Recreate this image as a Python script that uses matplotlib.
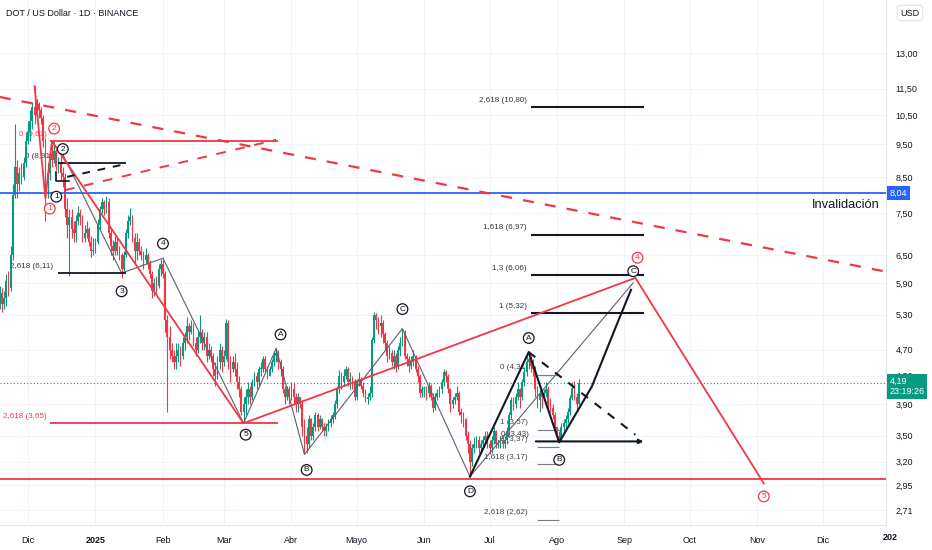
import matplotlib
matplotlib.use("Agg")
import matplotlib.pyplot as plt
import matplotlib.dates as mdates
import matplotlib.ticker as mticker
import matplotlib.transforms as mtransforms
import pandas as pd

plt.rcParams['font.family'] = ['Liberation Sans', 'DejaVu Sans']

# daily candles (high, low, close); open is the previous close
first_open = 5.5
nov24 = [(5.85, 5.40, 5.70), (5.80, 5.35, 5.50), (5.75, 5.40, 5.60), (6.10, 5.45, 5.95),
         (6.15, 5.65, 5.80), (6.70, 5.75, 6.50), (8.30, 6.40, 8.00), (10.2, 7.90, 8.80),
         (9.00, 7.90, 8.30), (8.80, 8.10, 8.60), (8.90, 8.30, 8.50), (9.10, 8.40, 8.90),
         (9.90, 8.80, 9.60)]
dec24 = [(10.3, 9.5, 9.9), (10.7, 9.6, 10.3), (11.0, 10.0, 10.8), (11.6, 10.2, 10.5),
         (11.1, 10.3, 10.9), (11.0, 10.4, 10.7), (10.8, 10.2, 10.4), (10.5, 9.4, 9.6),
         (9.7, 7.3, 8.4), (8.9, 7.9, 8.6), (9.4, 8.4, 9.2), (9.5, 8.8, 9.0),
         (9.6, 8.9, 9.3), (9.4, 8.7, 8.8), (9.1, 8.6, 8.9), (9.2, 8.4, 8.6),
         (8.8, 8.2, 8.5), (8.6, 7.4, 7.6), (7.9, 6.9, 7.2), (7.6, 6.05, 7.4),
         (7.6, 6.9, 7.1), (7.3, 6.8, 7.0), (7.45, 6.8, 7.3), (7.7, 7.2, 7.5),
         (7.6, 7.2, 7.4), (7.45, 6.8, 6.9), (7.2, 6.8, 7.0), (7.3, 6.9, 7.1),
         (7.15, 6.7, 6.8), (6.95, 6.45, 6.6), (6.9, 6.5, 6.6)]
jan25 = [(6.9, 6.55, 6.8), (7.35, 6.75, 7.2), (7.7, 7.1, 7.6), (7.9, 7.5, 7.8),
         (7.85, 7.45, 7.6), (7.95, 7.5, 7.8), (7.9, 6.9, 7.0), (7.1, 6.5, 6.7),
         (6.85, 6.4, 6.6), (6.95, 6.5, 6.8), (6.9, 6.5, 6.6), (6.7, 6.4, 6.5),
         (6.55, 6.0, 6.2), (6.6, 6.15, 6.5), (7.1, 6.45, 7.0), (7.45, 6.9, 7.3),
         (7.65, 7.2, 7.4), (7.45, 6.8, 6.9), (7.0, 6.3, 6.6), (7.0, 6.4, 6.8),
         (6.9, 6.5, 6.6), (6.7, 6.4, 6.5), (6.6, 6.2, 6.4), (6.65, 6.3, 6.5),
         (6.55, 6.2, 6.3), (6.4, 6.0, 6.1), (6.15, 5.6, 5.75), (6.0, 5.65, 5.9),
         (6.05, 5.7, 5.85), (6.3, 5.8, 6.2), (6.42, 6.05, 6.3)]
feb25 = [(6.4, 6.0, 6.1), (6.15, 5.0, 5.2), (5.3, 3.8, 4.9), (5.1, 4.55, 4.7),
         (4.8, 4.5, 4.6), (4.7, 4.4, 4.5), (4.8, 4.4, 4.6), (4.8, 4.5, 4.7),
         (4.75, 4.45, 4.6), (4.9, 4.55, 4.8), (5.0, 4.7, 4.9), (5.25, 4.8, 5.1),
         (5.15, 4.85, 5.0), (5.2, 4.95, 5.1), (5.15, 4.75, 4.8), (4.9, 4.6, 4.7),
         (5.0, 4.65, 4.9), (5.3, 4.8, 5.0), (5.05, 4.7, 4.8), (5.0, 4.7, 4.9),
         (5.0, 4.5, 4.6), (4.8, 4.55, 4.7), (4.75, 4.5, 4.6), (4.65, 4.3, 4.4),
         (4.5, 4.15, 4.3), (4.6, 4.25, 4.5), (4.8, 4.4, 4.7), (4.75, 4.35, 4.5)]
mar25 = [(4.7, 4.45, 4.6), (5.22, 4.55, 5.15), (5.2, 4.4, 4.5), (4.6, 4.2, 4.4),
         (4.6, 4.35, 4.5), (4.65, 4.3, 4.4), (4.5, 4.1, 4.2), (4.3, 4.0, 4.1),
         (4.15, 3.75, 3.8), (4.0, 3.67, 3.9), (4.1, 3.75, 4.0), (4.2, 3.9, 4.1),
         (4.15, 3.9, 4.0), (4.25, 3.95, 4.2), (4.35, 4.15, 4.3), (4.35, 4.1, 4.2),
         (4.45, 4.15, 4.4), (4.5, 4.3, 4.4), (4.6, 4.35, 4.55), (4.6, 4.35, 4.4),
         (4.45, 4.25, 4.3), (4.45, 4.3, 4.4), (4.55, 4.35, 4.5), (4.68, 4.45, 4.6),
         (4.72, 4.5, 4.65), (4.7, 4.4, 4.5), (4.55, 4.3, 4.4), (4.45, 4.05, 4.1),
         (4.15, 3.9, 4.0), (4.15, 3.95, 4.1), (4.15, 3.9, 4.0)]
apr25 = [(4.2, 3.95, 4.1), (4.2, 3.9, 4.0), (4.05, 3.8, 3.9), (4.05, 3.8, 4.0),
         (4.0, 3.85, 3.9), (3.95, 3.5, 3.6), (3.7, 3.28, 3.5), (3.6, 3.3, 3.4),
         (3.75, 3.35, 3.7), (3.72, 3.45, 3.5), (3.65, 3.45, 3.6), (3.8, 3.55, 3.75),
         (3.78, 3.55, 3.6), (3.75, 3.58, 3.7), (3.72, 3.55, 3.6), (3.65, 3.5, 3.55),
         (3.65, 3.5, 3.6), (3.7, 3.55, 3.65), (3.75, 3.6, 3.7), (3.8, 3.65, 3.75),
         (3.95, 3.7, 3.9), (4.15, 3.85, 4.1), (4.38, 4.05, 4.3), (4.35, 4.1, 4.2),
         (4.4, 4.15, 4.3), (4.45, 4.25, 4.4), (4.42, 4.15, 4.2), (4.35, 4.1, 4.25),
         (4.3, 4.1, 4.2), (4.25, 3.95, 4.0)]
may25 = [(4.25, 3.95, 4.2), (4.35, 4.15, 4.25), (4.28, 4.1, 4.15), (4.2, 4.0, 4.05),
         (4.1, 3.92, 3.97), (4.05, 3.9, 4.0), (4.15, 3.95, 4.05), (4.9, 4.0, 4.85),
         (5.35, 4.8, 5.3), (5.33, 5.05, 5.2), (5.25, 4.95, 5.1), (5.3, 4.9, 5.15),
         (5.2, 4.8, 4.95), (5.0, 4.7, 4.8), (4.85, 4.5, 4.6), (4.75, 4.55, 4.65),
         (4.7, 4.45, 4.5), (4.7, 4.4, 4.6), (4.65, 4.35, 4.45), (4.75, 4.4, 4.7),
         (4.9, 4.6, 4.8), (5.05, 4.75, 5.0), (5.02, 4.55, 4.6), (4.65, 4.45, 4.55),
         (4.6, 4.35, 4.45), (4.6, 4.4, 4.5), (4.7, 4.45, 4.6), (4.62, 4.35, 4.4),
         (4.45, 4.2, 4.3), (4.32, 4.0, 4.05), (4.15, 4.0, 4.1)]
jun25 = [(4.15, 4.0, 4.1), (4.15, 3.95, 4.05), (4.2, 4.0, 4.15), (4.18, 3.95, 4.0),
         (4.05, 3.8, 3.85), (4.05, 3.82, 4.0), (4.1, 3.95, 4.05), (4.15, 4.0, 4.1),
         (4.25, 4.05, 4.2), (4.4, 4.15, 4.35), (4.38, 4.2, 4.3), (4.32, 4.05, 4.1),
         (4.12, 3.8, 3.9), (4.0, 3.85, 3.95), (4.05, 3.9, 4.0), (4.15, 3.95, 4.05),
         (4.08, 3.75, 3.8), (3.85, 3.65, 3.75), (3.8, 3.6, 3.7), (3.72, 3.45, 3.5),
         (3.55, 3.3, 3.4), (3.45, 3.04, 3.2), (3.4, 3.15, 3.35), (3.48, 3.3, 3.4),
         (3.5, 3.35, 3.45), (3.5, 3.3, 3.35), (3.45, 3.3, 3.4), (3.5, 3.35, 3.45),
         (3.55, 3.4, 3.5), (3.55, 3.35, 3.4)]
jul25 = [(3.45, 3.28, 3.35), (3.5, 3.3, 3.45), (3.6, 3.4, 3.55), (3.57, 3.35, 3.4),
         (3.45, 3.35, 3.4), (3.5, 3.35, 3.45), (3.5, 3.35, 3.4), (3.5, 3.35, 3.45),
         (3.6, 3.4, 3.55), (3.8, 3.5, 3.75), (4.0, 3.7, 3.95), (4.0, 3.82, 3.9),
         (4.05, 3.85, 4.0), (4.2, 3.95, 4.1), (4.12, 3.85, 4.0), (4.25, 3.95, 4.2),
         (4.42, 4.15, 4.35), (4.6, 4.3, 4.5), (4.66, 4.4, 4.55), (4.6, 4.35, 4.45),
         (4.55, 4.3, 4.4), (4.45, 4.0, 4.1), (4.15, 3.85, 3.95), (4.1, 3.8, 4.05),
         (4.1, 3.85, 4.0), (4.1, 3.95, 4.05), (4.2, 4.0, 4.1), (4.15, 3.85, 3.9),
         (3.98, 3.8, 3.85), (3.9, 3.7, 3.75), (3.8, 3.55, 3.6)]
aug25 = [(3.62, 3.45, 3.5), (3.55, 3.42, 3.45), (3.65, 3.43, 3.6), (3.7, 3.55, 3.65),
         (3.75, 3.6, 3.7), (3.85, 3.65, 3.8), (4.02, 3.75, 3.98), (4.2, 3.95, 4.12),
         (4.22, 3.95, 4.0), (4.05, 3.8, 3.9), (4.25, 3.88, 4.19)]

last_price = 4.19
invalidation = 8.04
support = 3.02

month_ticks = ['2024-12-01', '2025-01-01', '2025-02-01', '2025-03-01', '2025-04-01',
               '2025-05-01', '2025-06-01', '2025-07-01', '2025-08-01', '2025-09-01',
               '2025-10-01', '2025-11-01', '2025-12-01']
month_labels = ['Dic', '2025', 'Feb', 'Mar', 'Abr', 'Mayo', 'Jun', 'Jul', 'Ago',
                'Sep', 'Oct', 'Nov', 'Dic']
price_ticks = [13.0, 11.5, 10.5, 9.5, 8.5, 7.5, 6.5, 5.9, 5.3, 4.7, 4.3, 3.9,
               3.5, 3.2, 2.95, 2.71]

# drawings (date, price)
red_wave = [('2024-12-04', 11.6), ('2024-12-09', 7.9), ('2024-12-12', 9.61),
            ('2025-03-10', 3.65), ('2025-09-06', 6.01), ('2025-11-04', 2.97)]
grey_wave = [('2024-12-16', 9.32), ('2025-01-13', 6.11), ('2025-02-01', 6.43),
             ('2025-03-10', 3.65), ('2025-03-25', 4.72), ('2025-04-07', 3.28),
             ('2025-05-22', 5.05), ('2025-06-22', 3.04), ('2025-09-05', 5.91)]
black_wave = [('2025-06-22', 3.04), ('2025-07-19', 4.66), ('2025-08-02', 3.42),
              ('2025-08-17', 4.14), ('2025-08-28', 5.08), ('2025-09-04', 5.77)]
black_dash = [('2025-07-19', 4.66), ('2025-09-06', 3.51)]
small_dash = [('2024-12-19', 8.50), ('2025-01-14', 8.87)]
bracket = [('2024-12-14', 8.65), ('2024-12-14', 8.38), ('2024-12-20', 8.38)]
red_dash_down = [('2024-11-18', 11.18), ('2025-12-29', 6.15)]
red_dash_up = [('2024-12-18', 8.12), ('2025-03-25', 9.65)]

red_fib_levels = [9.61, 3.65]
red_fib_labels = ['0 (9,61)', '2,618 (3,65)']
left_fib_levels = [8.91, 6.11]
left_fib_labels = ['0 (8,91)', '2,618 (6,11)']
big_fib_levels = [5.32, 6.06, 6.97, 10.80]
big_fib_labels = ['1 (5,32)', '1,3 (6,06)', '1,618 (6,97)', '2,618 (10,80)']
big_fib_zero = 3.43
small_fib_levels = [4.31, 3.57, 3.37, 3.17, 2.62]
small_fib_labels = ['0 (4,31)', '1 (3,57)', '1,3 (3,37)', '1,618 (3,17)', '2,618 (2,62)']

black_marks = [('1', '2024-12-14', 7.94), ('2', '2024-12-17', 9.35), ('3', '2025-01-13', 5.74),
               ('4', '2025-02-01', 6.76), ('5', '2025-03-11', 3.51), ('A', '2025-03-27', 4.95),
               ('B', '2025-04-08', 3.11), ('C', '2025-05-22', 5.40), ('D', '2025-06-22', 2.89),
               ('A', '2025-07-19', 4.89), ('B', '2025-08-02', 3.22), ('C', '2025-09-05', 6.15)]
red_marks = [('1', '2024-12-11', 7.62), ('2', '2024-12-13', 10.03),
             ('4', '2025-09-07', 6.44), ('5', '2025-11-04', 2.84)]

UP = '#089981'
DOWN = '#F23645'
RED = '#F23645'
INK = '#131722'


def dn(s):
    return mdates.date2num(pd.Timestamp(s))


def draw(pts, **kw):
    ax.plot([dn(d) for d, _ in pts], [p for _, p in pts], **kw)


def fib(levels, labels, start, end, color, lw, gap, lcolor):
    for lv, lb in zip(levels, labels):
        ax.hlines(lv, dn(start), dn(end), color=color, lw=lw, zorder=4)
        ax.annotate(lb, (dn(start), lv), xytext=(-gap, 2.5), textcoords='offset points',
                    ha='right', va='bottom', fontsize=5.8, color=lcolor, zorder=1)


def mark(txt, d, p, color):
    ax.text(dn(d), p, txt, ha='center', va='center', fontsize=6, color=color, zorder=7,
            bbox=dict(boxstyle='circle,pad=0.22', fc='white', ec=color, lw=0.9))


candles = nov24 + dec24 + jan25 + feb25 + mar25 + apr25 + may25 + jun25 + jul25 + aug25
dates = pd.date_range('2024-11-18', periods=len(candles), freq='D')
x = mdates.date2num(dates)
highs = [c[0] for c in candles]
lows = [c[1] for c in candles]
closes = [c[2] for c in candles]
opens = [first_open] + closes[:-1]
cols = [UP if c >= o else DOWN for o, c in zip(opens, closes)]
bottoms = [min(o, c) for o, c in zip(opens, closes)]
heights = [max(abs(c - o), 0.015) for o, c in zip(opens, closes)]

fig = plt.figure(figsize=(9.32, 5.5), dpi=100)
ax = fig.add_axes([0, 25 / 550, 886 / 932, 525 / 550])
ax.set_yscale('log')

ax.vlines(x, lows, highs, colors=cols, lw=0.8, zorder=2)
ax.bar(x, heights, bottom=bottoms, width=0.8, color=cols, linewidth=0, zorder=2)

# horizontal levels
ax.axhline(invalidation, color='#2962FF', lw=1.3, zorder=4)
ax.axhline(support, color=RED, lw=1.3, zorder=4)
ax.axhline(last_price, color=UP, lw=0.8, ls=(0, (1, 2)), zorder=3)

# trend lines
draw(red_dash_down, color=RED, lw=1.6, ls=(0, (5, 5)), zorder=4)
draw(red_dash_up, color=RED, lw=1.4, ls=(0, (5, 5)), zorder=4)
draw(red_wave, color=RED, lw=1.3, zorder=5)
draw(grey_wave, color='#5d606b', lw=0.8, zorder=4)
draw(black_wave, color=INK, lw=1.5, zorder=5)
draw(black_dash, color=INK, lw=1.5, ls=(0, (4, 4)), zorder=5)
draw(small_dash, color=INK, lw=1.4, ls=(0, (4, 4)), zorder=5)
draw(bracket, color=INK, lw=1.2, zorder=5)

# fibonacci tools
fib(red_fib_levels, red_fib_labels, '2024-12-11', '2025-03-26', RED, 1.3, 2, RED)
fib(left_fib_levels, left_fib_labels, '2024-12-15', '2025-01-15', INK, 1.3, 4, '#333')
fib(big_fib_levels, big_fib_labels, '2025-07-20', '2025-09-10', INK, 1.5, 3, '#333')
fib(small_fib_levels, small_fib_labels, '2025-07-23', '2025-08-02', '#787B86', 0.8, 7, '#444')
ax.annotate('', xy=(dn('2025-09-11'), big_fib_zero), xytext=(dn('2025-07-21'), big_fib_zero),
            arrowprops=dict(arrowstyle='-|>', color=INK, lw=1.5, mutation_scale=6), zorder=5)
ax.annotate('0 (3,43)', (dn('2025-07-21'), big_fib_zero), xytext=(-3, 2.5),
            textcoords='offset points', ha='right', va='bottom', fontsize=5.8, color='#333', zorder=1)

for t, d, p in black_marks:
    mark(t, d, p, INK)
for t, d, p in red_marks:
    mark(t, d, p, RED)

ax.text(dn('2025-12-27'), 7.73, 'Invalidación', ha='right', va='center', fontsize=9.3,
        color=INK, zorder=6)

# axes
ax.set_xlim(dn('2024-12-01') - 28 / 2.177, dn('2024-12-01') + 858 / 2.177)
ax.set_ylim(2.575, 15.59)
ax.set_xticks([dn(m) for m in month_ticks])
ax.set_xticklabels(month_labels)
ax.get_xticklabels()[1].set_fontweight('bold')
ax.yaxis.set_major_locator(mticker.FixedLocator(price_ticks))
ax.yaxis.set_minor_locator(mticker.NullLocator())
ax.yaxis.set_major_formatter(mticker.FuncFormatter(lambda v, _: f'{v:.2f}'.replace('.', ',')))
ax.yaxis.tick_right()
ax.tick_params(axis='y', length=0, pad=7, labelsize=6.5, labelcolor=INK)
ax.tick_params(axis='x', length=0, pad=8, labelsize=6.5, labelcolor=INK)
ax.grid(True, color='#F0F3FA', lw=0.8)
ax.set_axisbelow(True)
for s in ['top', 'left']:
    ax.spines[s].set_visible(False)
for s in ['right', 'bottom']:
    ax.spines[s].set_color('#E0E3EB')

ax.text(6 / 886, 1 - 13 / 525, 'DOT / US Dollar · 1D · BINANCE', transform=ax.transAxes,
        ha='left', va='center', fontsize=6.5, color=INK, zorder=8)
xtrans = mtransforms.blended_transform_factory(ax.transData, ax.transAxes)
ax.text(dn('2026-01-01'), -13 / 525, '202', transform=xtrans, ha='center', va='center',
        fontsize=6.5, fontweight='bold', color=INK, clip_on=False)

ytrans = mtransforms.blended_transform_factory(ax.transAxes, ax.transData)
ax.text(1.004, invalidation, '8,04', transform=ytrans, ha='left', va='center', fontsize=6.5,
        color='white', clip_on=False, zorder=9,
        bbox=dict(boxstyle='square,pad=0.3', fc='#2962FF', ec='none'))
ax.annotate('4,19\n23:19:26', xy=(1, last_price), xycoords=ytrans, xytext=(2.5, 4.5),
            textcoords='offset points', ha='left', va='top', fontsize=6.5, color='white',
            linespacing=1.15, annotation_clip=False, zorder=9,
            bbox=dict(boxstyle='square,pad=0.3', fc='#089981', ec='none'))
fig.text(910 / 932, 1 - 13 / 550, 'USD', ha='center', va='center', fontsize=6.5, color=INK,
         bbox=dict(boxstyle='round,pad=0.35', fc='white', ec='#E0E3EB', lw=0.8))

fig.savefig('out.png', dpi=100)
